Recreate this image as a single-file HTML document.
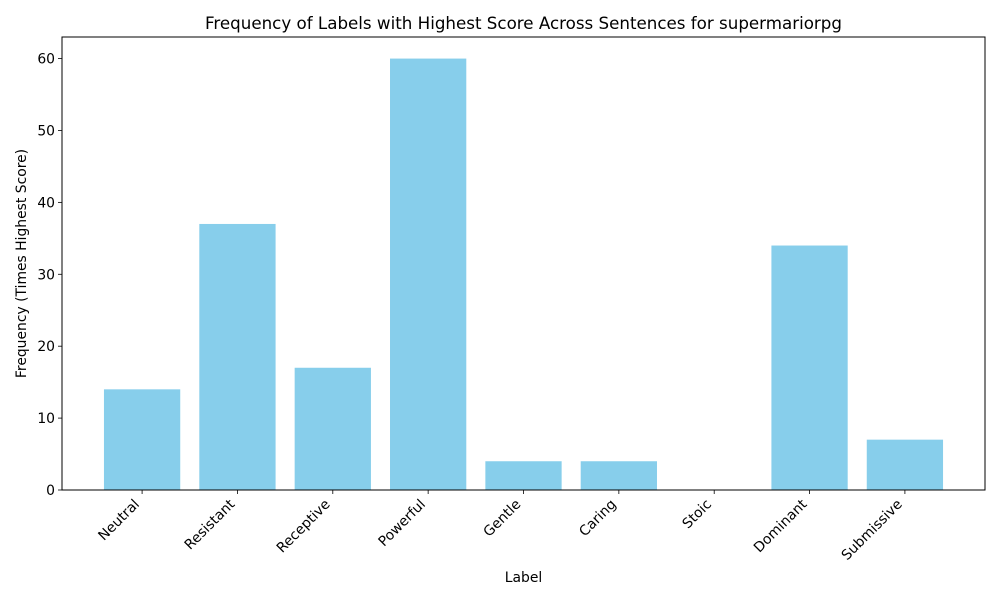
<!DOCTYPE html>
<html>
<head>
<meta charset="utf-8">
<style>
  html, body { margin: 0; padding: 0; background: #fff; }
  svg { display: block; font-family: "DejaVu Sans", "Liberation Sans", sans-serif; }
</style>
</head>
<body>
<svg id="chart" width="1000" height="600" xmlns="http://www.w3.org/2000/svg"></svg>
<script>
const categories = ["Neutral","Resistant","Receptive","Powerful","Gentle","Caring","Stoic","Dominant","Submissive"];
const values = [14,37,17,60,4,4,0,34,7];
const yTicks = [0,10,20,30,40,50,60];

const NS = "http://www.w3.org/2000/svg";
const svg = document.getElementById('chart');
const L = 62, R = 985, T = 37, B = 490;
const yMax = 63;
const xMin = -0.84, xMax = categories.length - 1 + 0.84;
function x(v) { return L + (v - xMin) / (xMax - xMin) * (R - L); }
function y(v) { return B - v / yMax * (B - T); }
function mk(tag, attrs, parent) {
  const e = document.createElementNS(NS, tag);
  for (const k in attrs) e.setAttribute(k, attrs[k]);
  (parent || svg).appendChild(e);
  return e;
}

const bw = x(0.4) - x(-0.4);
categories.forEach((c, i) => {
  const r = mk('rect', {x: x(i) - bw/2, y: y(values[i]), width: bw, height: y(0) - y(values[i]), fill: '#87ceeb'});
  
  
  const t = mk('line', {x1: x(i), x2: x(i), y1: B, y2: B + 4, stroke: '#000', 'stroke-width': 0.8});
  
  
  const ax = x(i) - 2, ay = B + 15;
  const lbl = mk('text', {x: ax, y: ay, 'font-size': 13.9, 'text-anchor': 'end',
    transform: `rotate(-45 ${ax} ${ay})`});
  lbl.textContent = c;
  
  
});

yTicks.forEach(v => {
  const t = mk('line', {x1: L - 4, x2: L, y1: y(v), y2: y(v), stroke: '#000', 'stroke-width': 0.8});
  
  
  const lbl = mk('text', {x: L - 7, y: y(v) + 5, 'font-size': 13.9, 'text-anchor': 'end'});
  lbl.textContent = v;
  
  
});

const frame = mk('rect', {x: L, y: T, width: R - L, height: B - T, fill: 'none', stroke: '#000', 'stroke-width': 1});



const title = mk('text', {x: (L + R) / 2, y: 29, 'font-size': 16.7, 'text-anchor': 'middle'});
title.textContent = 'Frequency of Labels with Highest Score Across Sentences for supermariorpg';



const xt = mk('text', {x: (L + R) / 2, y: 582, 'font-size': 13.9, 'text-anchor': 'middle'});
xt.textContent = 'Label';



const yt = mk('text', {x: 26, y: (T + B) / 2, 'font-size': 13.9, 'text-anchor': 'middle',
  transform: `rotate(-90 26 ${(T + B) / 2})`});
yt.textContent = 'Frequency (Times Highest Score)';


</script>
</body>
</html>
